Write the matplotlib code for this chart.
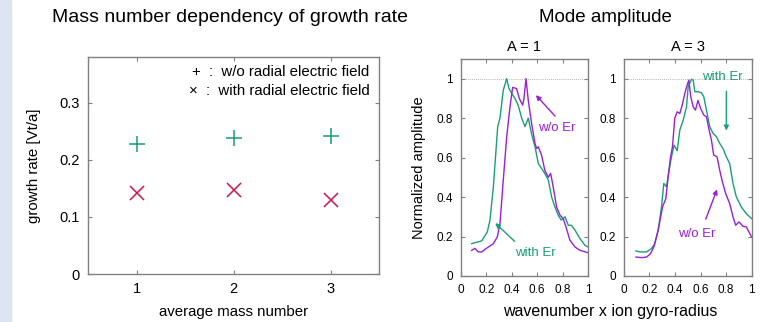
import matplotlib
matplotlib.use('Agg')
import matplotlib.pyplot as plt
import matplotlib.patches as mpatches

plt.rcParams['font.family'] = ['Liberation Sans', 'DejaVu Sans']

# growth rate vs mass number
mass_number = [1, 2, 3]
rate_without_er = [0.228, 0.239, 0.241]
rate_with_er = [0.141, 0.147, 0.130]

# mode amplitude, A = 1
k1_with = [0.084, 0.163, 0.207, 0.228, 0.255, 0.289, 0.307, 0.333, 0.36, 0.378, 0.399, 0.425,
           0.45, 0.478, 0.504, 0.53, 0.556, 0.583, 0.609, 0.635, 0.66, 0.688, 0.714, 0.74,
           0.766, 0.79, 0.82, 0.845, 0.87, 0.898, 0.937, 0.976, 1.0]
amp1_with = [0.164, 0.178, 0.223, 0.283, 0.452, 0.757, 0.80, 0.942, 1.0, 0.95, 0.926, 0.90,
             0.866, 0.80, 0.757, 0.80, 0.72, 0.655, 0.57, 0.545, 0.52, 0.486, 0.40, 0.35,
             0.308, 0.283, 0.30, 0.257, 0.257, 0.232, 0.19, 0.156, 0.147]
k1_wo = [0.084, 0.11, 0.136, 0.163, 0.20, 0.255, 0.286, 0.307, 0.333, 0.36, 0.386, 0.407,
         0.438, 0.459, 0.486, 0.496, 0.512, 0.53, 0.556, 0.583, 0.596, 0.609, 0.635, 0.66,
         0.688, 0.706, 0.722, 0.753, 0.78, 0.806, 0.827, 0.858, 0.898, 0.937, 1.0]
amp1_wo = [0.13, 0.14, 0.122, 0.122, 0.14, 0.164, 0.198, 0.266, 0.486, 0.706, 0.858, 0.956,
           0.95, 0.90, 0.866, 0.90, 1.0, 0.89, 0.773, 0.672, 0.646, 0.655, 0.612, 0.536,
           0.50, 0.52, 0.467, 0.35, 0.308, 0.29, 0.249, 0.181, 0.147, 0.13, 0.118]

# mode amplitude, A = 3
k3_with = [0.094, 0.125, 0.177, 0.216, 0.242, 0.268, 0.294, 0.312, 0.333, 0.354, 0.372, 0.393,
           0.417, 0.4375, 0.464, 0.49, 0.503, 0.529, 0.542, 0.555, 0.58, 0.607, 0.625, 0.646,
           0.672, 0.698, 0.724, 0.75, 0.776, 0.802, 0.828, 0.854, 0.88, 0.919, 0.958, 1.0]
amp3_with = [0.127, 0.122, 0.122, 0.139, 0.164, 0.232, 0.35, 0.469, 0.452, 0.536, 0.604, 0.663,
             0.635, 0.74, 0.79, 0.858, 0.96, 0.997, 0.993, 0.934, 0.934, 0.929, 0.909, 0.841,
             0.756, 0.723, 0.706, 0.672, 0.646, 0.604, 0.57, 0.469, 0.401, 0.35, 0.316, 0.291]
k3_wo = [0.094, 0.138, 0.177, 0.208, 0.234, 0.268, 0.302, 0.328, 0.346, 0.365, 0.38, 0.398,
         0.417, 0.4375, 0.456, 0.477, 0.495, 0.508, 0.523, 0.542, 0.56, 0.58, 0.6, 0.625,
         0.646, 0.667, 0.685, 0.703, 0.729, 0.75, 0.771, 0.797, 0.828, 0.854, 0.875, 0.901,
         0.932, 0.958, 0.979, 1.0]
amp3_wo = [0.096, 0.093, 0.096, 0.113, 0.147, 0.232, 0.35, 0.392, 0.503, 0.604, 0.655, 0.80,
           0.832, 0.824, 0.866, 0.926, 0.968, 0.993, 0.909, 0.858, 0.841, 0.89, 0.85, 0.816,
           0.807, 0.74, 0.689, 0.613, 0.604, 0.536, 0.477, 0.418, 0.367, 0.30, 0.257, 0.274,
           0.252, 0.249, 0.223, 0.198]

green = '#1a9e77'
purple = '#9a1fd6'
red = '#d0134a'
frame = '#808080'


def style_axes(ax, size):
    for s in ax.spines.values():
        s.set_color(frame)
        s.set_linewidth(1.0)
    ax.tick_params(direction='in', top=True, right=True, color=frame, length=3,
                   labelsize=size, pad=6)


fig = plt.figure(figsize=(7.6, 3.22), dpi=100)
fig.patches.append(mpatches.Rectangle((0, 0), 11 / 760, 1, transform=fig.transFigure,
                                      color='#dde5f4', zorder=0))

# left panel
ax = fig.add_axes([0.1158, 0.149, 0.383, 0.674])
ax.plot(mass_number, rate_without_er, '+', color=green, markersize=11, mew=1.1)
ax.plot(mass_number, rate_with_er, 'x', color=red, markersize=10, mew=1.1)
ax.set_xlim(0.5, 3.5)
ax.set_ylim(0, 0.38)
ax.set_xticks(mass_number)
ax.set_yticks([0, 0.1, 0.2, 0.3])
ax.set_yticklabels(['0', '0.1', '0.2', '0.3'])
style_axes(ax, 10.5)
ax.set_xlabel('average mass number', fontsize=10.8, labelpad=6)
ax.set_ylabel('growth rate [Vt/a]', fontsize=10.8, labelpad=13)
ax.text(3.4, 0.354, '+  :  w/o radial electric field', ha='right', va='center', fontsize=10.8)
ax.text(3.4, 0.321, '×  :  with radial electric field', ha='right', va='center', fontsize=10.8)
fig.text(0.302, 0.947, 'Mass number dependency of growth rate', ha='center', va='center',
         fontsize=14)

# right panels
ax1 = fig.add_axes([0.6066, 0.1429, 0.167, 0.674])
ax3 = fig.add_axes([0.821, 0.1429, 0.168, 0.674])
for a, kw, aw, kwo, awo, title in [(ax1, k1_with, amp1_with, k1_wo, amp1_wo, 'A = 1'),
                                    (ax3, k3_with, amp3_with, k3_wo, amp3_wo, 'A = 3')]:
    a.axhline(1.0, color='#999999', lw=0.6, ls=(0, (1, 1.5)), zorder=0)
    a.plot(kw, aw, color=green, lw=1.0)
    a.plot(kwo, awo, color=purple, lw=1.0)
    a.set_xlim(0, 1)
    a.set_ylim(0, 1.1)
    a.set_xticks([0, 0.2, 0.4, 0.6, 0.8, 1])
    a.set_xticklabels(['0', '0.2', '0.4', '0.6', '0.8', '1'])
    a.set_yticks([0, 0.2, 0.4, 0.6, 0.8, 1])
    a.set_yticklabels(['0', '0.2', '0.4', '0.6', '0.8', '1'])
    style_axes(a, 8.5)
    a.set_title(title, fontsize=10.5, pad=6)

ax1.set_ylabel('Normalized amplitude', fontsize=10.5, labelpad=7)

arrow = dict(arrowstyle='-|>', lw=1.0, mutation_scale=7)
ax1.annotate('', xy=(0.575, 0.927), xytext=(0.756, 0.80),
             arrowprops=dict(arrow, color=purple))
ax1.text(0.756, 0.75, 'w/o Er', color=purple, ha='center', va='center', fontsize=9.5)
ax1.annotate('', xy=(0.254, 0.278), xytext=(0.438, 0.166),
             arrowprops=dict(arrow, color=green))
ax1.text(0.583, 0.118, 'with Er', color=green, ha='center', va='center', fontsize=9.5)

ax3.annotate('', xy=(0.802, 0.723), xytext=(0.802, 0.95),
             arrowprops=dict(arrow, color=green))
ax3.text(0.771, 1.009, 'with Er', color=green, ha='center', va='center', fontsize=9.5)
ax3.annotate('', xy=(0.737, 0.452), xytext=(0.633, 0.275),
             arrowprops=dict(arrow, color=purple))
ax3.text(0.573, 0.213, 'w/o Er', color=purple, ha='center', va='center', fontsize=9.5)

fig.text(0.797, 0.947, 'Mode amplitude', ha='center', va='center', fontsize=13.5)
fig.text(0.803, 0.034, 'wavenumber x ion gyro-radius', ha='center', va='center', fontsize=11.5)

fig.savefig('out.png', dpi=100)
